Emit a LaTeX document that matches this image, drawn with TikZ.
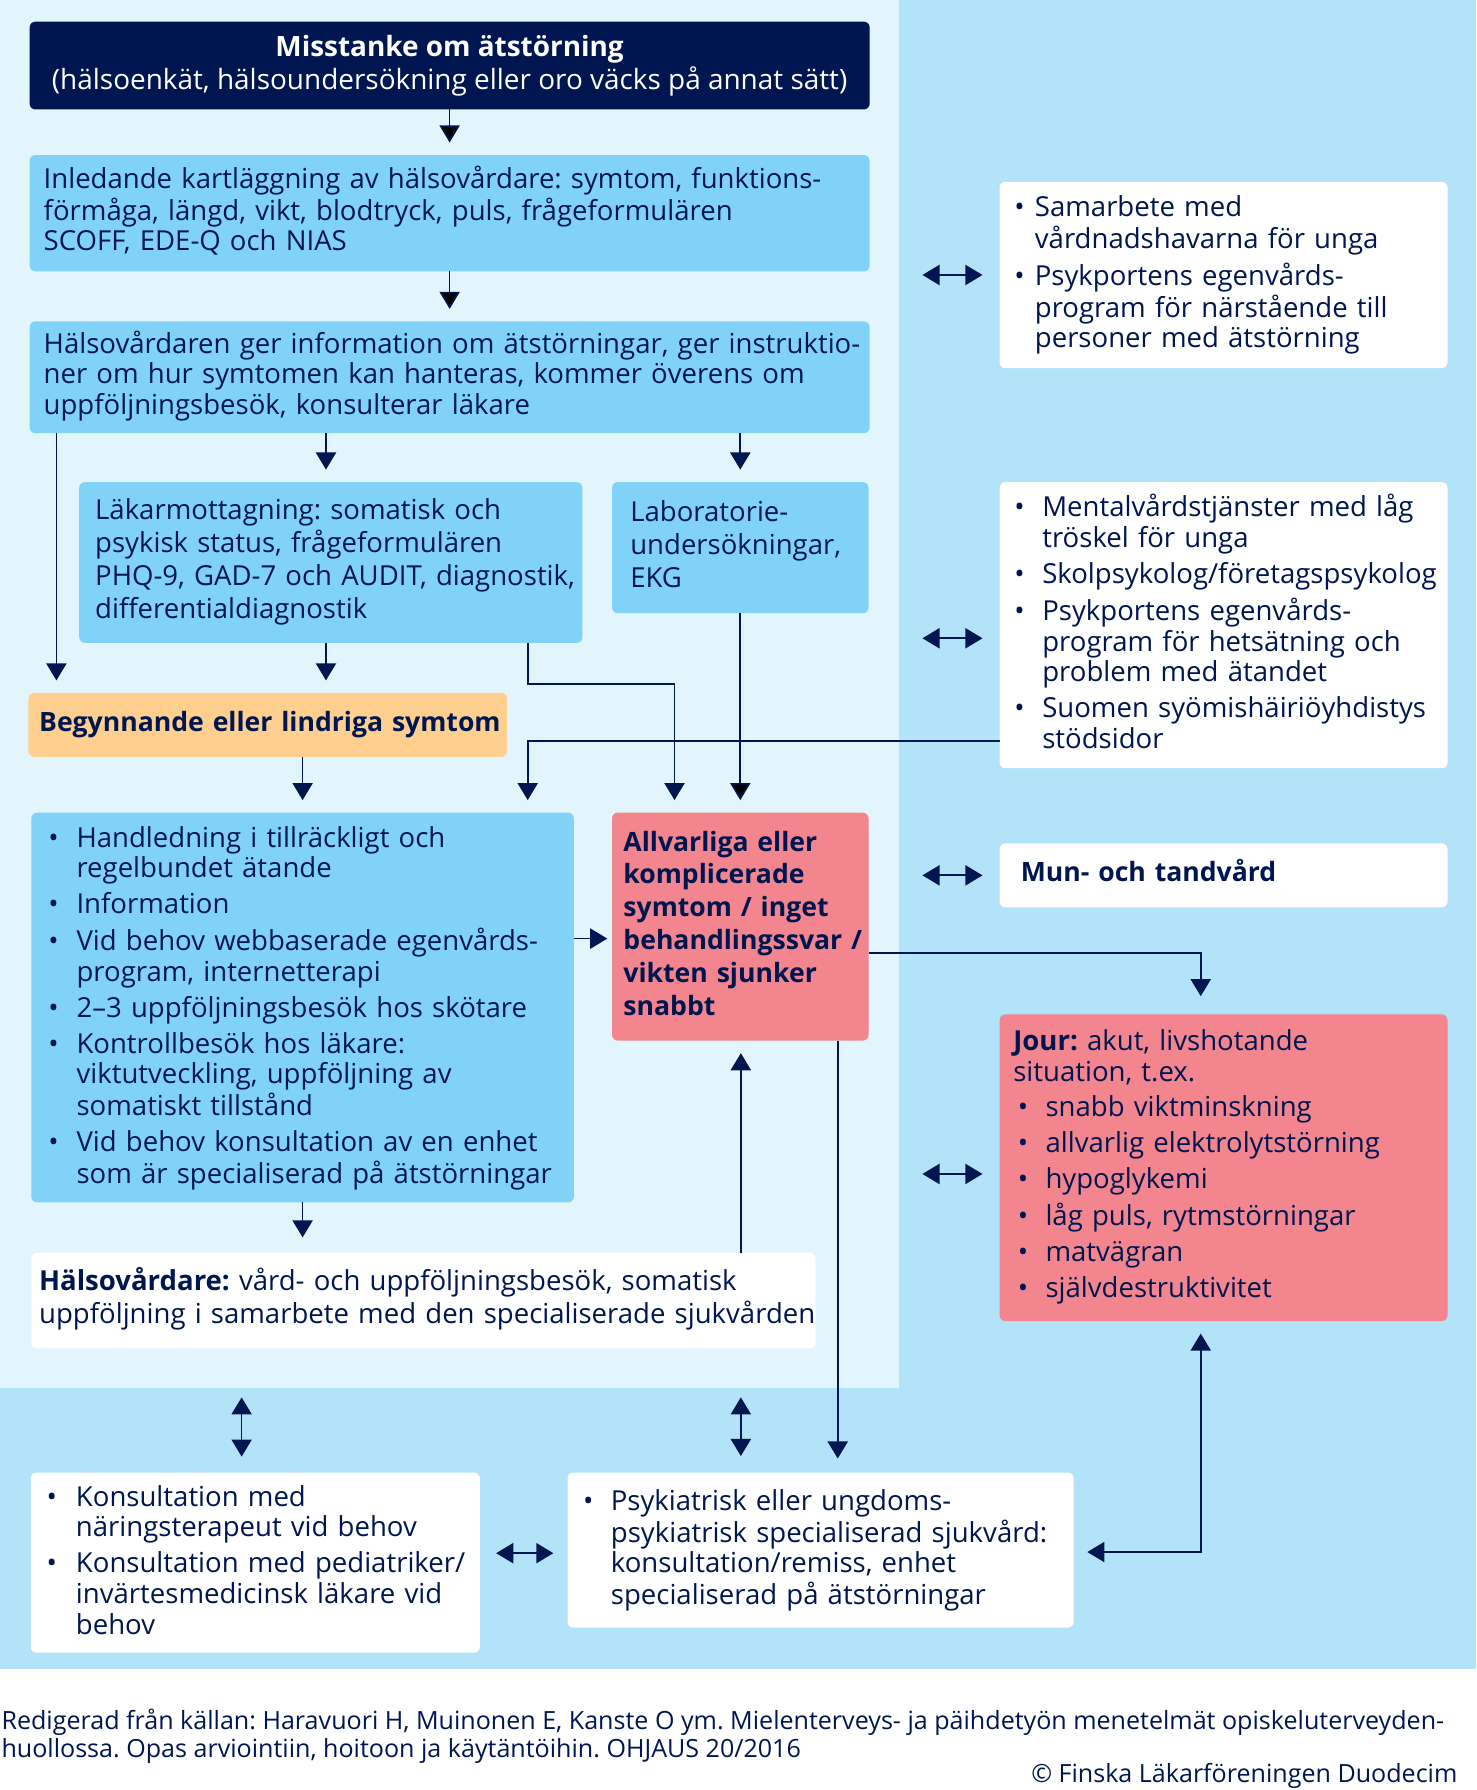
\documentclass[tikz,border=0pt]{standalone}
\usepackage{fontspec}
\setmainfont{Open Sans}
\usepackage{array}
\usetikzlibrary{arrows.meta,positioning,calc}
\frenchspacing

\definecolor{navy}{HTML}{001650}
\definecolor{boxblue}{HTML}{80D3F6}
\definecolor{panelblue}{HTML}{E2F4FC}
\definecolor{bgblue}{HTML}{B3E3F8}
\definecolor{mildorange}{HTML}{FFCF8F}
\definecolor{alertred}{HTML}{F2858D}

\newcommand{\tight}{\fontsize{14.5}{16.2}\selectfont}
\newcommand{\loose}{\fontsize{14.5}{17.4}\selectfont}
\newcommand{\heavy}{\fontsize{14}{17.3}\selectfont\bfseries}
\newcommand{\topfix}[1][1.4pt]{\rule{0pt}{\dimexpr0.7\baselineskip+#1\relax}}
\newcommand{\rows}[2][1.4pt]{\begin{tabular}{@{}l@{}}\topfix[#1]#2\end{tabular}}
\newcommand{\bullets}[3][1.4pt]{\begin{tabular}{@{}p{#2}@{}l@{}}\topfix[#1]#3\end{tabular}}
\newcommand{\gap}{\\[2.7pt]}

\begin{document}
\begin{tikzpicture}[x=0.6pt,y=-0.6pt,
  >={Triangle[length=9pt,width=10.6pt]},
  backdrop/.style={anchor=north west,inner sep=0pt,outer sep=0pt},
  box/.style={anchor=north west,rounded corners=3pt,inner ysep=0pt,outer sep=0pt,
    align=left,text=navy,font=\tight},
  link/.style={draw=navy,line width=0.9pt,shorten >=6.6pt}]

\useasboundingbox (0,0) rectangle (1295,1570.5);

% backgrounds
\node[backdrop,fill=bgblue,minimum width=777pt,minimum height=878.4pt] (back) at (0,0) {};
\node[backdrop,fill=panelblue,minimum width=473.4pt,minimum height=730.8pt] (panel) at (0,0) {};

% columns and rows for the connectors
\coordinate (colA) at (49.5,0);
\coordinate (colB) at (286,0);
\coordinate (colC) at (463,0);
\coordinate (colE) at (735,0);
\coordinate (colF) at (1053.5,0);
\coordinate (colG) at (212,0);
\coordinate (colH) at (650,0);
\coordinate (knee) at (591.8,600);
\coordinate (rowA) at (0,823.5);
\coordinate (rowB) at (0,836);
\coordinate (rowC) at (0,1362.7);
\coordinate (rowD) at (0,1361.7);
\coordinate (rowS) at (0,560);
\coordinate (rowE) at (0,1030);

% main column
\node[box,fill=navy,text=white,align=center,font=\fontsize{14.7}{17.5}\selectfont,minimum width=442.2pt,minimum height=46.2pt] (mis) at (26,19)
  {{\bfseries Misstanke om ätstörning}\\(hälsoenkät, hälsoundersökning eller oro väcks på annat sätt)};
\node[box,fill=boxblue,text width=427.4pt,inner xsep=7.4pt,minimum height=61.2pt] (init) at (26,136)
  {\rows{Inledande kartläggning av hälsovårdare: symtom, funktions-\\förmåga, längd, vikt, blodtryck, puls, frågeformulären\\SCOFF, EDE-Q och NIAS}};
\node[box,fill=boxblue,text width=427.4pt,inner xsep=7.4pt,minimum height=58.8pt] (info) at (26,282)
  {\rows{Hälsovårdaren ger information om ätstörningar, ger instruktio-\\ner om hur symtomen kan hanteras, kommer överens om\\uppföljningsbesök, konsulterar läkare}};
\node[box,fill=boxblue,font=\loose,text width=248.1pt,inner xsep=8.4pt,minimum height=84.6pt] (doc) at (69.5,423)
  {\rows{Läkarmottagning: somatisk och\\psykisk status, frågeformulären\\PHQ-9, GAD-7 och AUDIT, diagnostik,\\differentialdiagnostik}};
\node[box,fill=boxblue,font=\loose,text width=115.8pt,inner xsep=9.6pt,minimum height=69pt] (lab) at (537,423)
  {\rows{Laboratorie-\\undersökningar,\\EKG}};
\node[box,fill=mildorange,font=\heavy,text width=240.8pt,inner xsep=5.6pt,minimum height=33.6pt] (mild) at (25,608)
  {\rows{Begynnande eller lindriga symtom}};
\node[box,fill=boxblue,text width=267.6pt,inner xsep=9pt,minimum height=205.2pt] (care) at (27.5,713)
  {\bullets{14.8pt}{\textbullet & Handledning i tillräckligt och\\ & regelbundet ätande\gap
   \textbullet & Information\gap
   \textbullet & Vid behov webbaserade egenvårds-\\ & program, internetterapi\gap
   \textbullet & 2–3 uppföljningsbesök hos skötare\gap
   \textbullet & Kontrollbesök hos läkare:\\ & viktutveckling, uppföljning av\\ & somatiskt tillstånd\gap
   \textbullet & Vid behov konsultation av en enhet\\ & som är specialiserad på ätstörningar}};
\node[box,fill=alertred,font=\heavy,text width=123pt,inner xsep=6pt,minimum height=120pt] (severe) at (537,713)
  {\rows{Allvarliga eller\\komplicerade\\symtom / inget\\behandlingssvar /\\vikten sjunker\\snabbt}};
\node[box,fill=white,font=\loose,text width=404.6pt,inner xsep=4.1pt,minimum height=50.4pt] (nurse) at (27.5,1099)
  {\rows{\textbf{Hälsovårdare:} vård- och uppföljningsbesök, somatisk\\uppföljning i samarbete med den specialiserade sjukvården}};

% specialised care
\node[box,fill=white,text width=219.6pt,inner xsep=8.4pt,minimum height=94.8pt] (consult) at (27,1292)
  {\bullets{15.4pt}{\textbullet & Konsultation med\\ & näringsterapeut vid behov\gap
   \textbullet & Konsultation med pediatriker/\\ & invärtesmedicinsk läkare vid\\ & behov}};
\node[box,fill=white,text width=250pt,inner xsep=8.2pt,minimum height=81.6pt] (psych) at (498,1292)
  {\bullets{14.6pt}{\textbullet & Psykiatrisk eller ungdoms-\\ & psykiatrisk specialiserad sjukvård:\\ & konsultation/remiss, enhet\\ & specialiserad på ätstörningar}};

% right column
\node[box,fill=white,text width=220.2pt,inner xsep=7.8pt,minimum height=98.1pt] (family) at (877,159.5)
  {\bullets{10.8pt}{\textbullet & Samarbete med\\ & vårdnadshavarna för unga\gap
   \textbullet & Psykportens egenvårds-\\ & program för närstående till\\ & personer med ätstörning}};
\node[box,fill=white,text width=220.2pt,inner xsep=7.8pt,minimum height=150.6pt] (support) at (877,423)
  {\bullets{14.7pt}{\textbullet & Mentalvårdstjänster med låg\\ & tröskel för unga\gap
   \textbullet & Skolpsykolog/företagspsykolog\gap
   \textbullet & Psykportens egenvårds-\\ & program för hetsätning och\\ & problem med ätandet\gap
   \textbullet & Suomen syömishäiriöyhdistys\\ & stödsidor}};
\node[box,fill=white,font=\heavy,text width=213.4pt,inner xsep=11.2pt,minimum height=33.6pt] (dental) at (877,740)
  {\rows{Mun- och tandvård}};
\node[box,fill=alertred,text width=221.4pt,inner xsep=7.2pt,minimum height=161.4pt] (er) at (877,890)
  {\begin{tabular}{@{}p{17pt}@{}l@{}}\multicolumn{2}{@{}l@{}}{\topfix\textbf{Jour:} akut, livshotande}\\
   \multicolumn{2}{@{}l@{}}{situation, t.ex.}\gap
   \hspace{2.4pt}\textbullet & snabb viktminskning\gap
   \hspace{2.4pt}\textbullet & allvarlig elektrolytstörning\gap
   \hspace{2.4pt}\textbullet & hypoglykemi\gap
   \hspace{2.4pt}\textbullet & låg puls, rytmstörningar\gap
   \hspace{2.4pt}\textbullet & matvägran\gap
   \hspace{2.4pt}\textbullet & självdestruktivitet\end{tabular}};

% source
\node[anchor=base west,align=left,inner sep=0pt,text=navy,font=\fontsize{13.2}{15}\selectfont] (source) at (1,1542)
  {Redigerad från källan: Haravuori H, Muinonen E, Kanste O ym. Mielenterveys- ja päihdetyön menetelmät opiskeluterveyden-\\huollossa. Opas arviointiin, hoitoon ja käytäntöihin. OHJAUS 20/2016};
\node[anchor=base east,inner sep=0pt,text=navy,font=\fontsize{13.2}{15}\selectfont] (copy) at (1279,1563.5)
  {© Finska Läkarföreningen Duodecim};

% connectors
\path[link,->] (mis) edge (init)
               (init) edge (info)
               (lab) edge (severe);
\draw[link,->] (info.south -| colA) -- (mild.north -| colA);
\draw[link,->] (info.south -| colB) -- (doc.north -| colB);
\draw[link,->] (info.south -| lab.north) -- (lab.north);
\draw[link,->] (doc.south -| colB) -- (mild.north -| colB);
\draw[link,->] (doc.south -| colC) |- (knee) -- (severe.north -| knee);
\draw[link,->] ([yshift=14.5pt]support.south west) -| (care.north -| colC);
\draw[link,->] (care.north |- mild.south) -- (care.north);
\draw[link,->,shorten >=2.5pt] (care.east |- rowA) -- (severe.west |- rowA);
\draw[link,->,shorten >=9.6pt] (severe.east |- rowB) -| (er.north -| colF);
\draw[link,->,shorten >=7.4pt] (severe.south -| colE) -- (psych.north -| colE);
\draw[link,->] (nurse.north -| colH) -- (severe.south -| colH);
\draw[link,->,shorten >=8pt] (care.south) -- (care.south |- nurse.north);
\draw[link,<->,shorten <=4.8pt,shorten >=8.4pt] (panel.south -| colG) -- (consult.north -| colG);
\draw[link,<->,shorten <=4.8pt,shorten >=8.7pt] (panel.south -| colH) -- (psych.north -| colH);
\draw[link,<->,shorten <=8.6pt,shorten >=7.5pt] (consult.east |- rowC) -- (psych.west |- rowC);
\draw[link,<->,shorten <=7.2pt,shorten >=6.6pt] (psych.east |- rowD) -| (er.south -| colF);
\foreach \n/\r in {family/family,support/rowS,dental/dental,er/rowE}
  \draw[link,<->,shorten <=12.2pt,shorten >=9pt] (panel.east |- \r) -- (\n.west |- \r);
\end{tikzpicture}
\end{document}
